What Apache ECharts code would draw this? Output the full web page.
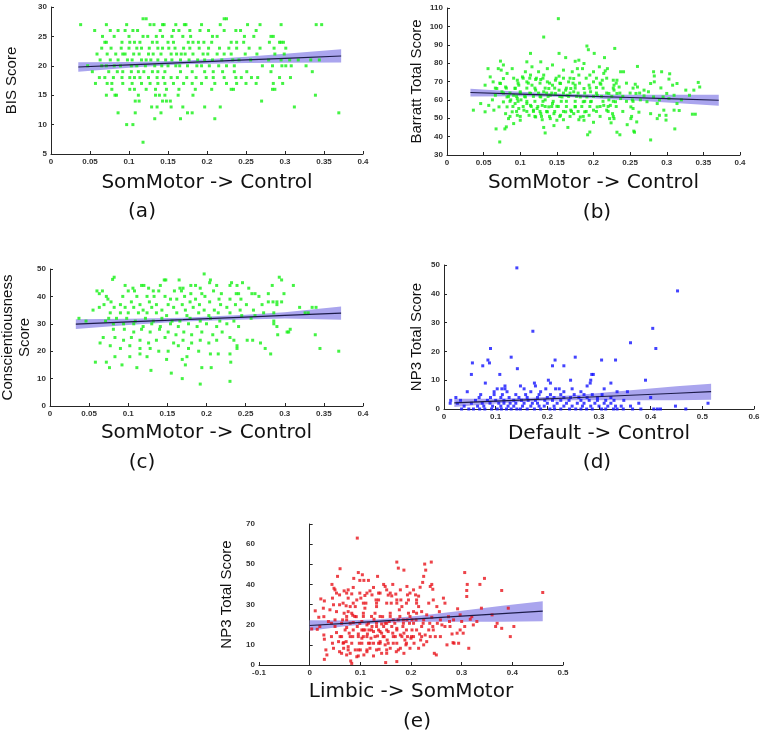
<!DOCTYPE html>
<html>
<head>
<meta charset="utf-8">
<script src="https://cdn.jsdelivr.net/npm/echarts@6/dist/echarts.min.js"></script>
<style>
  html, body { margin: 0; padding: 0; background: #fff; }
  #chart { width: 767px; height: 740px; }
</style>
</head>
<body>
<div id="chart"></div>
<script>
// (a) BIS score: rows of [score, x values]
var bisRows = [
  [28, [0.118, 0.122, 0.222, 0.225]],
  [27, [0.038, 0.071, 0.097, 0.127, 0.132, 0.143, 0.145, 0.160, 0.171, 0.173, 0.193, 0.217, 0.252, 0.268, 0.295, 0.340, 0.347]],
  [26, [0.056, 0.076, 0.086, 0.095, 0.105, 0.111, 0.140, 0.157, 0.164, 0.178, 0.191, 0.202, 0.222, 0.237, 0.243, 0.263]],
  [25, [0.066, 0.081, 0.100, 0.118, 0.124, 0.135, 0.143, 0.155, 0.169, 0.179, 0.207, 0.213, 0.248, 0.260, 0.282, 0.285]],
  [24, [0.069, 0.071, 0.091, 0.101, 0.107, 0.114, 0.130, 0.136, 0.150, 0.157, 0.176, 0.182, 0.189, 0.196, 0.206, 0.231, 0.238, 0.247, 0.280, 0.293, 0.295, 0.298]],
  [23, [0.065, 0.077, 0.090, 0.100, 0.110, 0.116, 0.126, 0.137, 0.143, 0.151, 0.159, 0.170, 0.178, 0.190, 0.202, 0.216, 0.228, 0.238, 0.254, 0.268, 0.286, 0.301]],
  [22, [0.059, 0.072, 0.083, 0.092, 0.095, 0.106, 0.113, 0.125, 0.131, 0.141, 0.154, 0.161, 0.167, 0.172, 0.182, 0.195, 0.201, 0.213, 0.222, 0.231, 0.249, 0.264, 0.287, 0.299]],
  [21, [0.063, 0.076, 0.086, 0.098, 0.104, 0.116, 0.122, 0.128, 0.137, 0.147, 0.155, 0.166, 0.177, 0.188, 0.197, 0.207, 0.219, 0.233, 0.241, 0.256, 0.279, 0.295, 0.306, 0.317, 0.333, 0.344]],
  [20, [0.047, 0.065, 0.071, 0.081, 0.089, 0.103, 0.110, 0.121, 0.133, 0.142, 0.150, 0.160, 0.165, 0.175, 0.187, 0.193, 0.203, 0.215, 0.225, 0.235, 0.271, 0.284, 0.296, 0.301, 0.308, 0.327]],
  [19, [0.053, 0.074, 0.085, 0.092, 0.103, 0.112, 0.119, 0.130, 0.137, 0.146, 0.166, 0.181, 0.197, 0.208, 0.220, 0.235, 0.251, 0.282, 0.335]],
  [18, [0.062, 0.069, 0.080, 0.091, 0.101, 0.107, 0.114, 0.125, 0.136, 0.144, 0.154, 0.162, 0.174, 0.186, 0.199, 0.208, 0.222, 0.237, 0.244, 0.257, 0.265, 0.293, 0.307]],
  [17, [0.057, 0.072, 0.078, 0.092, 0.104, 0.116, 0.127, 0.137, 0.146, 0.157, 0.170, 0.181, 0.193, 0.210, 0.225, 0.238, 0.250, 0.263, 0.285, 0.297]],
  [16, [0.078, 0.101, 0.107, 0.122, 0.134, 0.148, 0.164, 0.185, 0.206, 0.231, 0.234, 0.284, 0.287]],
  [15, [0.071, 0.082, 0.084, 0.112, 0.134, 0.139, 0.146, 0.163, 0.182, 0.339]],
  [14, [0.108, 0.113, 0.143, 0.148, 0.153, 0.270]],
  [13, [0.129, 0.136, 0.154, 0.169, 0.197, 0.217, 0.312]],
  [12, [0.086, 0.108, 0.141, 0.175, 0.181, 0.369]],
  [11, [0.133, 0.166, 0.210]],
  [10, [0.097, 0.105]],
  [7, [0.118]]
];
var bisFitX = [0.035, 0.1, 0.17, 0.25, 0.3, 0.372];
var bisFitY = [19.8, 20.16, 20.55, 21.0, 21.27, 21.67];
var bisLo = [19.0, 19.67, 20.25, 20.47, 20.5, 20.54];
var bisHi = [20.6, 20.65, 20.85, 21.53, 22.04, 22.8];

// (b) Barratt total score
var barrattPoints = [
  [0.152, 104.2], [0.132, 94.2], [0.191, 89.3], [0.229, 88], [0.193, 87.3], [0.201, 85.3], [0.153, 85.3], [0.114, 85.3], [0.162, 83], [0.215, 83], [0.26, 78.2], [0.073, 81.1], [0.056, 77], [0.07, 77], [0.074, 76.2],
  [0.072, 37.1], [0.278, 38.2], [0.192, 41], [0.195, 42.5], [0.134, 42], [0.146, 46], [0.067, 44.2], [0.079, 44.2], [0.081, 45.3], [0.132, 45], [0.165, 45], [0.232, 42.4], [0.236, 41], [0.255, 43], [0.256, 42.4], [0.299, 49], [0.311, 44.2], [0.317, 54.2], [0.339, 52.2], [0.335, 52.2],
  [0.343, 69.5], [0.345, 67], [0.337, 65.3], [0.326, 65.3], [0.331, 62.5], [0.32, 60], [0.304, 74.2], [0.303, 71.3], [0.293, 75.3], [0.282, 75.3], [0.283, 73], [0.283, 69.8], [0.292, 66.5], [0.3, 63.5], [0.295, 61.6], [0.287, 58], [0.296, 54.4], [0.299, 51.6], [0.29, 51.6], [0.287, 49.8], [0.278, 52.5], [0.273, 59], [0.269, 62.2], [0.269, 65.3], [0.26, 67], [0.257, 68.5], [0.258, 63.5], [0.264, 60], [0.253, 60], [0.251, 56.2], [0.254, 55.3], [0.251, 49.8], [0.262, 53.3], [0.259, 48], [0.246, 46.5],
  [0.241, 75.3], [0.237, 75.3], [0.232, 70.7], [0.227, 70.7], [0.228, 68], [0.235, 67], [0.228, 65.3], [0.221, 63.5], [0.232, 63.5], [0.237, 60.7], [0.23, 59], [0.221, 60], [0.223, 57], [0.214, 57], [0.218, 54.4], [0.226, 52.5], [0.222, 49.8], [0.224, 47.5], [0.228, 49.8], [0.212, 70.7], [0.21, 68.5], [0.204, 66.7], [0.214, 74.4], [0.219, 77], [0.216, 75.8], [0.208, 78], [0.2, 75.3], [0.195, 73.5], [0.2, 69.8], [0.194, 68], [0.187, 66.2], [0.196, 64.4], [0.205, 62.5], [0.191, 61.6], [0.182, 61.6], [0.186, 59], [0.196, 59], [0.205, 56.2], [0.2, 54.4], [0.188, 53.5], [0.194, 51.6], [0.182, 50.7], [0.187, 48.9], [0.2, 47.8], [0.18, 49.2], [0.173, 52.5], [0.169, 54.4], [0.175, 56.2],
  [0.18, 81.6], [0.175, 81], [0.187, 79.8], [0.185, 77], [0.178, 77], [0.171, 75.3], [0.18, 73.5], [0.173, 71.6], [0.166, 69.8], [0.175, 68], [0.169, 66.2], [0.173, 64.4], [0.162, 65.3], [0.164, 62.5], [0.157, 61.6], [0.148, 63.5], [0.153, 65.3], [0.155, 68.9], [0.148, 70.7], [0.153, 72.9], [0.159, 76.2], [0.144, 79], [0.137, 77], [0.128, 80.7], [0.125, 75.3], [0.132, 73.5], [0.128, 71.1], [0.137, 69.8], [0.144, 68], [0.139, 66.2], [0.132, 64.4], [0.141, 62.5], [0.128, 61.6], [0.134, 60], [0.144, 58], [0.15, 56.5], [0.139, 56.2], [0.13, 57], [0.123, 55.3], [0.114, 57], [0.118, 54.4], [0.128, 52.5], [0.137, 53.5], [0.146, 52.5], [0.155, 51.6], [0.162, 53.5], [0.159, 49.2], [0.15, 48.9], [0.141, 49.8], [0.13, 49.2], [0.121, 50.7], [0.112, 51.6], [0.105, 54.4], [0.109, 58], [0.101, 60], [0.107, 61.6], [0.114, 63.5], [0.121, 65.3], [0.116, 68], [0.109, 69.8], [0.121, 71.1], [0.114, 73.5], [0.107, 75.3], [0.116, 78], [0.109, 80.7], [0.103, 72.5], [0.096, 70.7], [0.098, 68], [0.093, 66.2], [0.1, 64.4], [0.091, 62.5], [0.096, 60.7], [0.087, 60], [0.093, 58], [0.098, 55.3], [0.089, 53.5], [0.096, 51.6], [0.1, 48.9], [0.091, 47.1], [0.084, 49.8], [0.08, 52.5], [0.082, 56.2], [0.077, 58.9], [0.082, 61.6], [0.075, 64.4], [0.08, 67], [0.073, 68.9], [0.077, 71.6], [0.082, 74.4], [0.089, 77], [0.077, 79], [0.068, 66.2], [0.066, 62.5], [0.062, 60], [0.057, 57], [0.064, 54.4], [0.071, 56.2], [0.052, 53.5], [0.036, 54.4], [0.046, 58], [0.063, 69.8], [0.059, 72.5], [0.052, 68],
  [0.314, 68.9], [0.308, 68], [0.31, 62.5], [0.303, 60.7], [0.31, 54.4], [0.314, 58], [0.278, 68.9], [0.275, 64.4], [0.282, 61.6], [0.29, 60],
  [0.091, 71.8], [0.104, 71.8], [0.113, 71.8], [0.122, 71.8], [0.131, 71.8], [0.149, 71.8], [0.159, 71.8], [0.168, 71.8], [0.19, 71.8], [0.204, 71.8], [0.218, 71.8],
  [0.072, 69.1], [0.097, 69.1], [0.111, 69.1], [0.127, 69.1], [0.14, 69.1], [0.154, 69.1], [0.172, 69.1], [0.181, 69.1], [0.209, 69.1], [0.231, 69.1], [0.245, 69.1],
  [0.066, 66.4], [0.081, 66.4], [0.093, 66.4], [0.109, 66.4], [0.12, 66.4], [0.134, 66.4], [0.147, 66.4], [0.163, 66.4], [0.175, 66.4], [0.195, 66.4], [0.213, 66.4], [0.227, 66.4], [0.254, 66.4],
  [0.077, 63.7], [0.086, 63.7], [0.1, 63.7], [0.113, 63.7], [0.125, 63.7], [0.136, 63.7], [0.143, 63.7], [0.159, 63.7], [0.168, 63.7], [0.179, 63.7], [0.188, 63.7], [0.204, 63.7], [0.218, 63.7], [0.236, 63.7], [0.25, 63.7], [0.263, 63.7],
  [0.084, 61.9], [0.095, 61.9], [0.106, 61.9], [0.118, 61.9], [0.127, 61.9], [0.138, 61.9], [0.154, 61.9], [0.166, 61.9], [0.177, 61.9], [0.2, 61.9], [0.211, 61.9], [0.225, 61.9], [0.24, 61.9],
  [0.086, 59.2], [0.097, 59.2], [0.109, 59.2], [0.12, 59.2], [0.131, 59.2], [0.145, 59.2], [0.156, 59.2], [0.163, 59.2], [0.175, 59.2], [0.188, 59.2], [0.197, 59.2], [0.213, 59.2], [0.227, 59.2], [0.245, 59.2], [0.254, 59.2],
  [0.09, 56.4], [0.104, 56.4], [0.115, 56.4], [0.124, 56.4], [0.134, 56.4], [0.143, 56.4], [0.152, 56.4], [0.163, 56.4], [0.175, 56.4], [0.184, 56.4], [0.195, 56.4], [0.209, 56.4], [0.22, 56.4], [0.231, 56.4],
  [0.095, 53.7], [0.109, 53.7], [0.118, 53.7], [0.127, 53.7], [0.136, 53.7], [0.147, 53.7], [0.159, 53.7], [0.17, 53.7], [0.179, 53.7], [0.19, 53.7], [0.204, 53.7], [0.22, 53.7], [0.24, 53.7],
  [0.086, 51], [0.1, 51], [0.12, 51], [0.129, 51], [0.14, 51], [0.154, 51], [0.168, 51], [0.186, 51], [0.209, 51], [0.227, 51], [0.252, 51]
];
var barrattFitX = [0.032, 0.1, 0.165, 0.25, 0.3, 0.371];
var barrattFitY = [64.0, 63.16, 62.35, 61.3, 60.68, 59.8];
var barrattLo = [61.9, 61.93, 61.55, 59.84, 58.59, 56.8];
var barrattHi = [66.1, 64.39, 63.15, 62.76, 62.77, 62.8];

// (c) Conscientiousness score
var conscPoints = [
  [0.082, 47], [0.080, 46.2], [0.197, 48.2], [0.293, 47], [0.296, 46], [0.205, 46], [0.204, 45], [0.146, 46], [0.148, 46], [0.165, 46], [0.232, 45], [0.246, 45], [0.23, 44], [0.239, 44], [0.311, 44], [0.284, 44], [0.117, 44], [0.12, 44], [0.141, 44], [0.096, 44], [0.106, 43], [0.126, 43], [0.166, 43], [0.17, 43], [0.186, 44], [0.18, 44], [0.192, 43], [0.213, 44], [0.254, 43],
  [0.06, 42], [0.067, 42], [0.1, 42], [0.108, 42], [0.132, 42], [0.139, 42], [0.159, 42], [0.168, 42], [0.18, 41], [0.194, 41], [0.209, 42], [0.219, 41], [0.238, 41], [0.241, 41], [0.258, 41], [0.262, 41], [0.279, 41], [0.299, 41], [0.063, 41],
  [0.072, 40], [0.074, 39], [0.093, 40], [0.111, 40], [0.124, 40], [0.133, 40], [0.147, 40], [0.154, 39], [0.162, 39], [0.172, 40], [0.186, 39], [0.198, 40], [0.216, 39], [0.23, 39], [0.244, 39], [0.267, 40], [0.285, 38], [0.29, 38], [0.296, 38],
  [0.078, 38], [0.069, 37], [0.09, 37], [0.104, 38], [0.115, 37], [0.127, 38], [0.136, 37], [0.151, 37], [0.169, 37], [0.179, 38], [0.191, 37], [0.204, 38], [0.218, 37], [0.237, 37], [0.251, 37], [0.271, 37], [0.279, 38], [0.29, 37],
  [0.063, 36], [0.082, 36], [0.096, 36], [0.107, 36], [0.119, 35], [0.13, 36], [0.143, 35], [0.158, 36], [0.173, 35], [0.183, 36], [0.197, 35], [0.21, 35], [0.226, 36], [0.243, 35], [0.26, 35], [0.319, 36], [0.335, 36], [0.34, 36], [0.055, 35],
  [0.077, 34], [0.09, 34], [0.1, 34], [0.113, 34], [0.124, 34], [0.136, 34], [0.149, 33], [0.162, 34], [0.175, 33], [0.19, 34], [0.203, 33], [0.215, 34], [0.23, 34], [0.245, 33], [0.262, 33], [0.273, 34], [0.286, 34], [0.326, 34], [0.33, 34],
  [0.075, 32], [0.085, 32], [0.098, 32], [0.109, 31], [0.122, 32], [0.132, 31], [0.143, 32], [0.156, 31], [0.166, 31], [0.179, 32], [0.192, 31], [0.205, 32], [0.217, 31], [0.235, 31], [0.257, 32], [0.037, 32], [0.046, 31], [0.071, 31],
  [0.081, 30], [0.094, 30], [0.107, 30], [0.119, 29], [0.13, 30], [0.141, 29], [0.154, 30], [0.164, 29], [0.177, 30], [0.188, 29], [0.2, 30], [0.213, 29], [0.226, 30], [0.241, 29], [0.286, 31], [0.286, 30], [0.29, 29], [0.307, 28], [0.303, 27], [0.305, 27],
  [0.081, 28], [0.095, 28], [0.107, 27], [0.117, 28], [0.128, 27], [0.14, 28], [0.151, 27], [0.161, 26], [0.171, 27], [0.181, 26], [0.194, 27], [0.208, 26], [0.22, 27], [0.23, 25],
  [0.068, 25], [0.064, 23], [0.083, 25], [0.094, 24], [0.104, 25], [0.115, 24], [0.126, 23], [0.136, 24], [0.147, 25], [0.158, 23], [0.17, 24], [0.181, 23], [0.192, 24], [0.203, 23], [0.213, 24], [0.235, 24], [0.252, 24], [0.259, 24], [0.269, 23], [0.291, 26], [0.339, 26],
  [0.077, 22], [0.09, 21], [0.102, 22], [0.115, 21], [0.128, 21], [0.139, 20], [0.151, 20], [0.164, 22], [0.177, 21], [0.19, 20], [0.205, 19], [0.215, 19], [0.23, 19], [0.239, 21], [0.239, 22], [0.275, 21], [0.282, 19], [0.345, 21], [0.369, 20],
  [0.058, 16], [0.072, 16], [0.076, 14], [0.083, 18], [0.092, 15], [0.102, 18], [0.111, 14], [0.115, 19], [0.124, 18], [0.129, 13], [0.149, 17], [0.155, 12], [0.169, 17], [0.173, 15], [0.175, 18], [0.194, 14], [0.206, 14], [0.231, 16], [0.23, 9], [0.169, 10], [0.192, 8]
];
var conscFitX = [0.033, 0.1, 0.17, 0.25, 0.3, 0.372];
var conscFitY = [29.9, 30.7, 31.5, 32.46, 33.05, 33.9];
var conscLo = [28.1, 29.6, 30.8, 31.6, 31.9, 31.5];
var conscHi = [31.7, 31.8, 32.2, 33.3, 34.2, 36.3];

// (d) NP3 total score vs Default -> Control: rows of [score, x values]
var np3dRows = [
  [0, [0.034, 0.048, 0.057, 0.069, 0.079, 0.092, 0.103, 0.111, 0.121, 0.13, 0.141, 0.148, 0.161, 0.175, 0.187, 0.205, 0.214, 0.226, 0.243, 0.255, 0.265, 0.276, 0.287, 0.305, 0.313, 0.328, 0.335, 0.347, 0.365, 0.381, 0.406, 0.413, 0.419, 0.468]],
  [1, [0.039, 0.065, 0.077, 0.094, 0.11, 0.124, 0.135, 0.152, 0.168, 0.184, 0.194, 0.213, 0.232, 0.248, 0.268, 0.284, 0.3, 0.317, 0.332, 0.343, 0.361, 0.448]],
  [2, [0.012, 0.026, 0.053, 0.074, 0.089, 0.106, 0.116, 0.128, 0.139, 0.155, 0.171, 0.181, 0.2, 0.219, 0.237, 0.258, 0.271, 0.292, 0.31, 0.323, 0.377, 0.511]],
  [3, [0.013, 0.032, 0.061, 0.084, 0.1, 0.116, 0.135, 0.15, 0.163, 0.177, 0.195, 0.21, 0.226, 0.242, 0.265, 0.281, 0.297, 0.313, 0.329, 0.348]],
  [4, [0.023, 0.068, 0.09, 0.11, 0.126, 0.145, 0.161, 0.181, 0.2, 0.213, 0.232, 0.245, 0.261, 0.277, 0.297, 0.323, 0.4]],
  [5, [0.071, 0.097, 0.113, 0.139, 0.158, 0.184, 0.206, 0.226, 0.252, 0.271, 0.287, 0.306]],
  [6, [0.045, 0.097, 0.122, 0.168, 0.187, 0.232, 0.265, 0.335, 0.355]],
  [7, [0.103, 0.112, 0.118, 0.155, 0.197, 0.216, 0.223, 0.248, 0.31]],
  [8, [0.118, 0.148, 0.177, 0.277]],
  [9, [0.08, 0.175, 0.206, 0.283, 0.323]],
  [10, [0.202, 0.245, 0.284, 0.39]],
  [12, [0.053, 0.108, 0.286, 0.289]],
  [14, [0.142]], [15, [0.075, 0.21, 0.232]], [16, [0.055, 0.088]], [17, [0.085, 0.215, 0.305, 0.332]],
  [18, [0.13, 0.254]], [21, [0.09, 0.41]], [23, [0.361]], [27, [0.172]], [28, [0.404]], [41, [0.452]], [49, [0.141]]
];
var np3dFitX = [0.02, 0.1, 0.17, 0.25, 0.35, 0.45, 0.517];
var np3dFitY = [2.1, 2.73, 3.28, 3.9, 4.69, 5.47, 6.0];
var np3dLo = [0.7, 1.89, 2.68, 3.0, 3.08, 3.05, 3.2];
var np3dHi = [3.6, 3.57, 3.88, 4.8, 6.3, 7.89, 8.8];

// (e) NP3 total score vs Limbic -> SomMotor
var np3ePoints = [
  [0.094, 63], [0.172, 51.1], [0.24, 51.1], [0.227, 50.1], [0.175, 48.1], [0.186, 47.1], [0.06, 47.8], [0.096, 45.9], [0.104, 44.8], [0.306, 45.9], [0.345, 43], [0.055, 44], [0.134, 44], [0.087, 43], [0.099, 42], [0.107, 42], [0.116, 42],
  [0.229, 47.1], [0.225, 44], [0.223, 41], [0.241, 40], [0.238, 39], [0.243, 37.6], [0.311, 40], [0.336, 40], [0.31, 37], [0.379, 37], [0.46, 36], [0.146, 40], [0.164, 40], [0.044, 40], [0.048, 38.1], [0.086, 38.5], [0.126, 38.5], [0.149, 39], [0.192, 39], [0.205, 37.3], [0.218, 38.6], [0.179, 37.3],
  [0.17, 35.2], [0.193, 34.8], [0.209, 34.8], [0.215, 34.2], [0.155, 34.7], [0.139, 35.7], [0.119, 36.8], [0.109, 34.5], [0.099, 35.7], [0.083, 35.3], [0.076, 33.2], [0.068, 36.8], [0.059, 34.8], [0.05, 37.3], [0.045, 33.2], [0.022, 32.8], [0.029, 31.8], [0.027, 28.2], [0.011, 26.9], [0.018, 23.7], [0.004, 17.9], [0.015, 17.7], [0.028, 24], [0.028, 14.9], [0.029, 12.8], [0.032, 7.5], [0.029, 2.8], [0.034, 5],
  [0.043, 14.1], [0.045, 10.8], [0.047, 8.3], [0.05, 19.1], [0.053, 16.1], [0.057, 11.6], [0.059, 6.6], [0.063, 5.8], [0.067, 11.1], [0.063, 14.1], [0.065, 22.4], [0.068, 25.7], [0.072, 29.4], [0.076, 26.5], [0.073, 18.6], [0.076, 9.1], [0.08, 5.8], [0.081, 2], [0.083, 0.8], [0.085, 14.1], [0.086, 21.1], [0.085, 24.7], [0.09, 29], [0.093, 32.3], [0.092, 24], [0.094, 19.1], [0.096, 15.4], [0.098, 10.8], [0.096, 4.5], [0.1, 7.5],
  [0.103, 13.3], [0.106, 17.4], [0.103, 21.6], [0.106, 25.7], [0.109, 28.2], [0.111, 30.7], [0.113, 19.9], [0.114, 15.4], [0.116, 10.8], [0.119, 8.3], [0.121, 13.3], [0.123, 19.1], [0.126, 16.6], [0.127, 22.7], [0.129, 25.7], [0.131, 32.3], [0.132, 29], [0.134, 14.4], [0.136, 10.8], [0.137, 7.8], [0.139, 11.6], [0.139, 16.6], [0.142, 20.4], [0.144, 24], [0.146, 19.1], [0.147, 14.1], [0.149, 10], [0.15, 1.2], [0.152, 5.8], [0.153, 12.4], [0.155, 16.6], [0.157, 21.6], [0.159, 25.7], [0.161, 30.7], [0.162, 34.3], [0.164, 15.8], [0.165, 10.8], [0.169, 14.1], [0.171, 6.6], [0.172, 1.7], [0.172, 18.2], [0.175, 22.4], [0.177, 27.4], [0.18, 32.3], [0.182, 29],
  [0.184, 19.1], [0.186, 15.8], [0.188, 12.4], [0.19, 10], [0.192, 22.4], [0.193, 14.1], [0.195, 25.7], [0.197, 20.7], [0.198, 8.3], [0.2, 13.3], [0.202, 17.4], [0.205, 14.1], [0.206, 10.8], [0.21, 22.4], [0.211, 25.7], [0.215, 29], [0.217, 15.4], [0.219, 12.4], [0.221, 19.1], [0.225, 22.4], [0.228, 14.9], [0.231, 11.6], [0.235, 17.4], [0.237, 20.7], [0.238, 14.1], [0.241, 23.7], [0.243, 19.1], [0.246, 5.8], [0.25, 5], [0.248, 14.1], [0.251, 29], [0.252, 20.7], [0.256, 26.5], [0.258, 14.1], [0.261, 19.9], [0.264, 33.2], [0.267, 30.7], [0.271, 10],
  [0.276, 21.6], [0.277, 19.1], [0.281, 15.4], [0.283, 11.1], [0.285, 10.8], [0.291, 15.8], [0.292, 27.9], [0.294, 10.8], [0.297, 24.9], [0.3, 21.6], [0.303, 15.8], [0.306, 19.1], [0.31, 34], [0.314, 8.3], [0.317, 22.7], [0.32, 24], [0.323, 19.9], [0.33, 21.6], [0.339, 28.2], [0.36, 24.9], [0.367, 19.1], [0.37, 20.7], [0.379, 18.2], [0.392, 28.2], [0.396, 14.1], [0.403, 19.1], [0.297, 17.4], [0.284, 22.4], [0.274, 24], [0.267, 19.1],
  [0.076, 37.3], [0.101, 33.2], [0.123, 34.8], [0.136, 32.3], [0.152, 37.3], [0.172, 32.3], [0.195, 32.3], [0.211, 32.3], [0.235, 30.7], [0.244, 32.3], [0.059, 29.9], [0.053, 26.5], [0.047, 29.9], [0.04, 27.4], [0.037, 21.6], [0.02, 19.1], [0.043, 20.7], [0.05, 22.4], [0.073, 22.4], [0.08, 29], [0.083, 25.7], [0.078, 15.8], [0.072, 11.6], [0.067, 8.3], [0.073, 5], [0.09, 7.5], [0.093, 4.1], [0.107, 5], [0.113, 6.6], [0.126, 4.5], [0.142, 5.8], [0.159, 8.3], [0.179, 8.3], [0.186, 5.8], [0.215, 8.3], [0.225, 10],
  [0.126, 10.8], [0.106, 14.1], [0.109, 17.4], [0.117, 17.4], [0.132, 19.1], [0.142, 15.8], [0.152, 20.7], [0.162, 19.1], [0.165, 22.4], [0.179, 14.9], [0.185, 22.4], [0.202, 22.4], [0.205, 26.5], [0.221, 26.5], [0.231, 24.9], [0.258, 22.4], [0.244, 17.4],
  [0.073, 24.1], [0.089, 24.1], [0.106, 24.1], [0.122, 24.1], [0.139, 24.1], [0.159, 24.1], [0.178, 24.1], [0.198, 24.1],
  [0.063, 20.7], [0.08, 20.7], [0.099, 20.7], [0.116, 20.7], [0.132, 20.7], [0.149, 20.7], [0.168, 20.7], [0.185, 20.7], [0.205, 20.7], [0.224, 20.7],
  [0.07, 17.4], [0.086, 17.4], [0.103, 17.4], [0.122, 17.4], [0.136, 17.4], [0.152, 17.4], [0.172, 17.4], [0.191, 17.4], [0.211, 17.4],
  [0.06, 14.1], [0.08, 14.1], [0.096, 14.1], [0.113, 14.1], [0.129, 14.1], [0.145, 14.1], [0.165, 14.1], [0.182, 14.1], [0.201, 14.1], [0.221, 14.1],
  [0.066, 10.8], [0.083, 10.8], [0.103, 10.8], [0.119, 10.8], [0.139, 10.8], [0.155, 10.8], [0.172, 10.8], [0.191, 10.8],
  [0.076, 7.5], [0.096, 7.5], [0.113, 7.5], [0.132, 7.5], [0.152, 7.5], [0.175, 7.5],
  [0.066, 30.7], [0.086, 30.7], [0.106, 30.7], [0.132, 30.7], [0.152, 30.7], [0.172, 30.7], [0.191, 30.7], [0.211, 30.7],
  [0.053, 35.7], [0.073, 35.7], [0.113, 35.7], [0.136, 35.7], [0.159, 35.7], [0.198, 35.7]
];
var np3eFitX = [0, 0.07, 0.14, 0.22, 0.3, 0.38, 0.46];
var np3eFitY = [19.6, 20.68, 21.76, 22.99, 24.23, 25.46, 26.7];
var np3eLo = [17.0, 19.24, 20.86, 21.42, 21.5, 21.48, 21.75];
var np3eHi = [22.25, 22.12, 22.66, 24.56, 26.96, 29.44, 31.65];

var captions = ['(a)', '(b)', '(c)', '(d)', '(e)'];

function fromRows(rows) {
  var out = [];
  rows.forEach(function (r) {
    r[1].forEach(function (x) { out.push([x, r[0]]); });
  });
  return out;
}
function zip(a, b) { return a.map(function (v, i) { return [v, b[i]]; }); }

var panels = [
  { grid: { left: 51, top: 7, width: 312, height: 147 }, x: [0, 0.4, 0.05], y: [5, 30, 5],
    xName: 'SomMotor -> Control', xGap: 19, yName: 'BIS Score', yGap: 31,
    pts: fromRows(bisRows), color: '#14f014', fx: bisFitX, fy: bisFitY, lo: bisLo, hi: bisHi, cap: [142, 212] },
  { grid: { left: 447, top: 8, width: 293, height: 147 }, x: [0, 0.4, 0.05], y: [30, 110, 10],
    xName: 'SomMotor -> Control', xGap: 18, yName: 'Barratt Total Score', yGap: 22,
    pts: barrattPoints, color: '#14f014', fx: barrattFitX, fy: barrattFitY, lo: barrattLo, hi: barrattHi, cap: [597, 213] },
  { grid: { left: 50, top: 269, width: 313, height: 137 }, x: [0, 0.4, 0.05], y: [0, 50, 10],
    xName: 'SomMotor -> Control', xGap: 17, yName: 'Conscientiousness\nScore', yGap: 9,
    pts: conscPoints, color: '#14f014', fx: conscFitX, fy: conscFitY, lo: conscLo, hi: conscHi, cap: [142, 463] },
  { grid: { left: 444, top: 265, width: 310, height: 144 }, x: [0, 0.6, 0.1], y: [0, 50, 10],
    xName: 'Default -> Control', xGap: 15, yName: 'NP3 Total Score', yGap: 19,
    pts: fromRows(np3dRows), color: '#1414ff', fx: np3dFitX, fy: np3dFitY, lo: np3dLo, hi: np3dHi, cap: [597, 463] },
  { grid: { left: 259, top: 524, width: 304, height: 141 }, x: [-0.1, 0.5, 0.1], y: [0, 70, 10],
    xName: 'Limbic -> SomMotor', xGap: 17, yName: 'NP3 Total Score', yGap: 24,
    pts: np3ePoints, color: '#e8141c', fx: np3eFitX, fy: np3eFitY, lo: np3eLo, hi: np3eHi, cap: [417, 722] }
];

var axisCommon = {
  type: 'value',
  axisLine: { show: true, lineStyle: { color: '#262626', width: 1 } },
  axisTick: { show: true, inside: true, length: 3, lineStyle: { color: '#262626' } },
  axisLabel: { fontSize: 8, fontWeight: 'bold', color: '#333', fontFamily: 'Liberation Sans', margin: 4 },
  splitLine: { show: false },
  nameLocation: 'middle'
};

function bandSeries(i, xs, lo, hi) {
  return {
    type: 'custom', xAxisIndex: i, yAxisIndex: i, z: 1, silent: true,
    data: xs.map(function (x, k) { return [x, lo[k], hi[k]]; }),
    renderItem: function (params, api) {
      if (params.dataIndex !== 0) return;
      var top = [], bottom = [];
      for (var k = 0; k < xs.length; k++) {
        top.push(api.coord([xs[k], hi[k]]));
        bottom.unshift(api.coord([xs[k], lo[k]]));
      }
      return { type: 'polygon', shape: { points: top.concat(bottom) }, style: { fill: '#aaa5ee' } };
    }
  };
}

var option = { animation: false, grid: [], xAxis: [], yAxis: [], series: [], graphic: [] };

panels.forEach(function (p, i) {
  p.grid.outerBoundsMode = 'none';
  option.grid.push(p.grid);
  option.xAxis.push(Object.assign({}, axisCommon, {
    gridIndex: i, min: p.x[0], max: p.x[1], interval: p.x[2],
    name: p.xName, nameGap: p.xGap,
    nameTextStyle: { fontSize: 20, fontFamily: 'DejaVu Sans', color: '#111' }
  }));
  option.yAxis.push(Object.assign({}, axisCommon, {
    gridIndex: i, min: p.y[0], max: p.y[1], interval: p.y[2],
    name: p.yName, nameGap: p.yGap,
    nameTextStyle: { fontSize: 15, fontFamily: 'Liberation Sans', color: '#111', lineHeight: 17 }
  }));
  option.series.push(bandSeries(i, p.fx, p.lo, p.hi));
  option.series.push({
    type: 'scatter', xAxisIndex: i, yAxisIndex: i, z: 2, silent: true,
    symbol: 'rect', symbolSize: 3,
    itemStyle: { color: p.color },
    data: p.pts
  });
  option.series.push({
    type: 'line', xAxisIndex: i, yAxisIndex: i, z: 3, silent: true,
    symbol: 'none', lineStyle: { color: '#1d1c4a', width: 1.2 },
    data: zip(p.fx, p.fy)
  });
  option.graphic.push({
    type: 'text', x: p.cap[0], y: p.cap[1],
    style: { text: captions[i], font: '20px "DejaVu Sans"', fill: '#111',
      align: 'center', verticalAlign: 'middle', textAlign: 'center', textVerticalAlign: 'middle' }
  });
});

var chart = echarts.init(document.getElementById('chart'));
chart.setOption(option);
</script>
</body>
</html>
